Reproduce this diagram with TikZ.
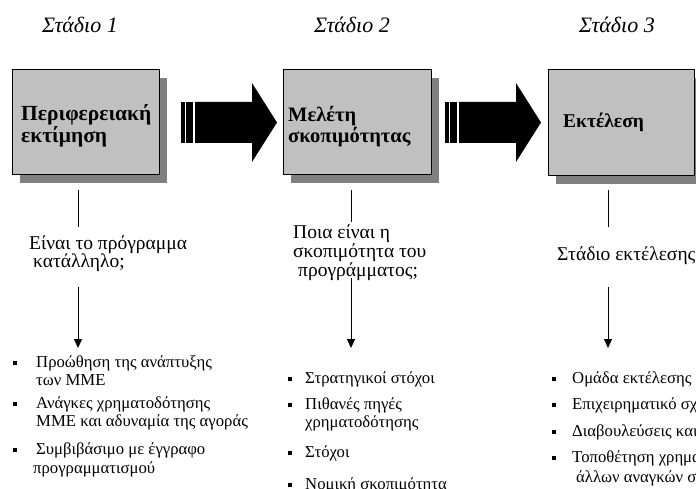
\documentclass[tikz,border=0pt]{standalone}
\usepackage{fontspec}
\setmainfont{Liberation Serif}
\usetikzlibrary{shadows,arrows.meta}
\definecolor{boxgray}{RGB}{192,192,192}
\definecolor{shadowgray}{RGB}{128,128,128}
\begin{document}
\begin{tikzpicture}[x=1pt,y=-1pt,
  stagebox/.style={draw=black, line width=0.8pt, fill=boxgray, inner sep=0pt,
    anchor=north west,
    drop shadow={shadow xshift=8pt, shadow yshift=-9pt, fill=shadowgray, opacity=1}},
  title/.style={anchor=base, inner sep=0pt, font=\fontsize{22}{26}\selectfont\itshape},
  boxtext/.style={anchor=base west, inner sep=0pt, font=\fontsize{21.5}{24}\selectfont\bfseries},
  question/.style={anchor=base west, inner sep=0pt, font=\fontsize{19.5}{22}\selectfont},
  item/.style={anchor=base west, inner sep=0pt, font=\fontsize{16.7}{19}\selectfont},
  bulletsq/.style={fill=black, inner sep=0pt, minimum size=4pt},
  conn/.style={line width=0.8pt},
  downarrow/.style={conn, -{Triangle[width=8pt,length=9pt]}},
  blockarrow/.pic={
    \fill (0,-20.5) rectangle (3.8,20.5);
    \fill (4.5,-20.5) rectangle (12.2,20.5);
    \fill (14.2,-20.5) -- (71,-20.5) -- (71,-39.5) -- (96,0) -- (71,39.5)
          -- (71,20.5) -- (14.2,20.5) -- cycle;
  }]
\useasboundingbox (0,0) rectangle (696,489);
\clip (0,0) rectangle (696,489);

% stage titles
\node[title] (t1) at (80,33) {Στάδιο 1};
\node[title] (t2) at (352,33) {Στάδιο 2};
\node[title] (t3) at (617,33) {Στάδιο 3};

% stage boxes
\node[stagebox, minimum width=147pt, minimum height=105pt] (box1) at (12,69) {};
\node[stagebox, minimum width=148pt, minimum height=105pt] (box2) at (283,69) {};
\node[stagebox, minimum width=146pt, minimum height=106pt] (box3) at (548,69) {};

\node[boxtext] (box1a) at (21,121) {Περιφερειακή};
\node[boxtext] (box1b) at (21,143) {εκτίμηση};
\node[boxtext, font=\fontsize{20.5}{23}\selectfont\bfseries] (box2a) at (288,122) {Μελέτη};
\node[boxtext, font=\fontsize{20.5}{23}\selectfont\bfseries] (box2b) at (288,143) {σκοπιμότητας};
\node[boxtext, font=\fontsize{19.5}{22}\selectfont\bfseries] (box3a) at (563,128) {Εκτέλεση};

% block arrows between the stages
\pic at (181,122.5) {blockarrow};
\pic at (445,122.5) {blockarrow};

% questions under the stages
\node[question] (q1a) at (29,249) {Είναι το πρόγραμμα};
\node[question] (q1b) at (33,267) {κατάλληλο;};
\node[question] (q2a) at (293,238) {Ποια είναι η};
\node[question] (q2b) at (293,257) {σκοπιμότητα του};
\node[question] (q2c) at (298,276) {προγράμματος;};
\node[question] (q3a) at (557,260) {Στάδιο εκτέλεσης};

% connectors
\coordinate (c1a) at (78,190);  \coordinate (c1b) at (78,227);
\coordinate (c1c) at (78,287);  \coordinate (c1d) at (78,348);
\coordinate (c2a) at (351,190); \coordinate (c2b) at (351,222);
\coordinate (c2c) at (351,278); \coordinate (c2d) at (351,348);
\coordinate (c3a) at (608,190); \coordinate (c3b) at (608,227);
\coordinate (c3c) at (608,287); \coordinate (c3d) at (608,348);
\draw[conn] (c1a) -- (c1b);
\draw[downarrow] (c1c) -- (c1d);
\draw[conn] (c2a) -- (c2b);
\draw[downarrow] (c2c) -- (c2d);
\draw[conn] (c3a) -- (c3b);
\draw[downarrow] (c3c) -- (c3d);

% lists, stage 1
\node[bulletsq] (b11) at (15,363) {};
\node[item] (i11a) at (36,367) {Προώθηση της ανάπτυξης};
\node[item] (i11b) at (36,385) {των ΜΜΕ};
\node[bulletsq] (b12) at (15,404) {};
\node[item] (i12a) at (36,408) {Ανάγκες χρηματοδότησης};
\node[item] (i12b) at (36,426) {ΜΜΕ και αδυναμία της αγοράς};
\node[bulletsq] (b13) at (15,450) {};
\node[item] (i13a) at (36,454) {Συμβιβάσιμο με έγγραφο};
\node[item] (i13b) at (33,473) {προγραμματισμού};

% lists, stage 2
\node[bulletsq] (b21) at (290,379) {};
\node[item] (i21a) at (305,383) {Στρατηγικοί στόχοι};
\node[bulletsq] (b22) at (290,405) {};
\node[item] (i22a) at (305,409) {Πιθανές πηγές};
\node[item] (i22b) at (305,427) {χρηματοδότησης};
\node[bulletsq] (b23) at (290,453) {};
\node[item] (i23a) at (305,457) {Στόχοι};
\node[bulletsq] (b24) at (290,485) {};
\node[item] (i24a) at (305,489) {Νομική σκοπιμότητα};

% lists, stage 3
\node[bulletsq] (b31) at (554,379) {};
\node[item] (i31a) at (572,383) {Ομάδα εκτέλεσης};
\node[bulletsq] (b32) at (554,405) {};
\node[item] (i32a) at (572,409) {Επιχειρηματικό σχέδιο};
\node[bulletsq] (b33) at (554,432) {};
\node[item] (i33a) at (572,436) {Διαβουλεύσεις και};
\node[bulletsq] (b34) at (554,458) {};
\node[item] (i34a) at (572,462) {Τοποθέτηση χρηματοδοτικών};
\node[item] (i34b) at (576,482) {άλλων αναγκών στο};
\end{tikzpicture}
\end{document}
